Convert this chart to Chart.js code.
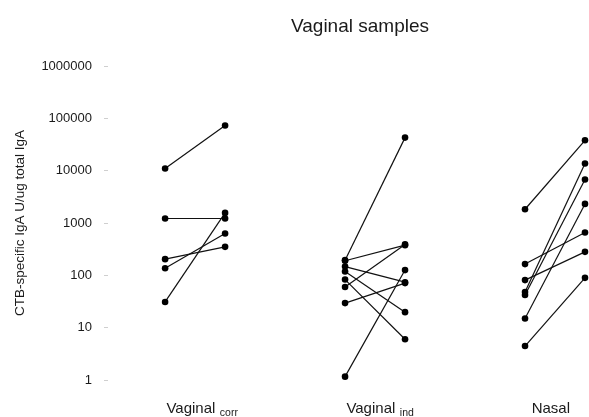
<!DOCTYPE html>
<html>
<head>
<meta charset="utf-8">
<script src="https://cdn.jsdelivr.net/npm/chart.js@4/dist/chart.umd.min.js"></script>
<style>
  html, body { margin: 0; padding: 0; background: #fff; }
  #wrap { width: 589px; height: 417px; position: relative; }
</style>
</head>
<body>
<div id="wrap"><canvas id="c" width="589" height="417"></canvas></div>
<script>
// ---- data ----
const chartTitle = 'Vaginal samples';
const yAxisTitle = 'CTB-specific IgA U/ug total IgA';
const groupNames = ['Vaginal', 'Vaginal', 'Nasal'];
const groupSubscripts = ['corr', 'ind', ''];
const yTickValues = [1, 10, 100, 1000, 10000, 100000, 1000000];

// each subject: value at first time point, value at second time point
const vagCorrBefore = [11000, 1220, 31, 204, 137];
const vagCorrAfter  = [73000, 1220, 1560, 350, 630];

const vagIndBefore = [195, 190, 147, 118, 83, 60, 29.5, 1.16];
const vagIndAfter  = [42800, 377, 74, 19.8, 6, 390, 71, 126];

const nasalBefore = [1830, 164, 81, 48, 42, 15, 4.45];
const nasalAfter  = [38000, 659, 281, 13700, 6760, 2316, 89.6];

const groupsBefore = [vagCorrBefore, vagIndBefore, nasalBefore];
const groupsAfter  = [vagCorrAfter, vagIndAfter, nasalAfter];

// ---- build datasets ----
const GROUP_STEP = 3;   // x units between groups
const PAIR_STEP = 1;    // x units between the two time points
const LABEL_OFF = 0.43; // label position within a group
const datasets = [];
groupsBefore.forEach((before, g) => {
  before.forEach((v, i) => {
    datasets.push({
      data: [
        { x: g * GROUP_STEP, y: v },
        { x: g * GROUP_STEP + PAIR_STEP, y: groupsAfter[g][i] }
      ],
      borderColor: '#111',
      backgroundColor: '#111',
      borderWidth: 1.2,
      pointRadius: 3.3,
      pointBorderWidth: 0,
      pointBackgroundColor: '#000',
      showLine: true,
      clip: false
    });
  });
});

const FONT = '"Liberation Sans", Arial, Helvetica, sans-serif';
const X_TICK_PAD = 12;

const extraText = {
  id: 'extraText',
  afterDraw(chart) {
    const ctx = chart.ctx;
    const xs = chart.scales.x;
    ctx.save();
    // title
    ctx.fillStyle = '#1a1a1a';
    ctx.font = '19px ' + FONT;
    ctx.textAlign = 'center';
    ctx.textBaseline = 'middle';
    ctx.fillText(chartTitle, 360, 27);
    // subscripts after x tick labels
    const baseline = xs.top + X_TICK_PAD + 20 + 4.3;
    groupNames.forEach((name, g) => {
      const sub = groupSubscripts[g];
      if (!sub) return;
      const px = xs.getPixelForValue(g * GROUP_STEP + LABEL_OFF);
      ctx.font = '15px ' + FONT;
      const w = ctx.measureText(name).width;
      ctx.font = '10.5px ' + FONT;
      ctx.textAlign = 'left';
      ctx.textBaseline = 'alphabetic';
      ctx.fillText(sub, px + w / 2 + 4.5, baseline);
    });
    ctx.restore();
  }
};

new Chart(document.getElementById('c'), {
  type: 'scatter',
  data: { datasets },
  plugins: [extraText],
  options: {
    responsive: false,
    animation: false,
    events: [],
    layout: { padding: { top: 66, left: 0, right: 0, bottom: 0 } },
    plugins: { legend: { display: false }, tooltip: { enabled: false }, title: { display: false } },
    scales: {
      x: {
        type: 'linear',
        min: -0.952,
        max: 7.0,
        border: { display: false },
        grid: { display: false },
        afterBuildTicks(scale) {
          scale.ticks = groupNames.map((n, g) => ({ value: g * GROUP_STEP + LABEL_OFF }));
        },
        afterFit(scale) { scale.height = 37; },
        ticks: {
          padding: X_TICK_PAD,
          maxRotation: 0,
          autoSkip: false,
          color: '#1a1a1a',
          font: { family: FONT, size: 15 },
          callback(value) {
            const g = Math.round((value - LABEL_OFF) / GROUP_STEP);
            return groupNames[g];
          }
        }
      },
      y: {
        type: 'logarithmic',
        min: 1,
        max: 1000000,
        border: { display: false },
        grid: { drawOnChartArea: false, drawTicks: true, tickLength: 4, color: '#cfcfcf', lineWidth: 1 },
        afterBuildTicks(scale) {
          scale.ticks = yTickValues.map(v => ({ value: v }));
        },
        afterFit(scale) { scale.width = 108; },
        title: {
          display: true,
          text: yAxisTitle,
          color: '#1a1a1a',
          font: { family: FONT, size: 13.5 },
          padding: { top: 12, bottom: 0 }
        },
        ticks: {
          padding: 12,
          color: '#1a1a1a',
          font: { family: FONT, size: 13 },
          callback(value) { return String(value); }
        }
      }
    }
  }
});
</script>
</body>
</html>
